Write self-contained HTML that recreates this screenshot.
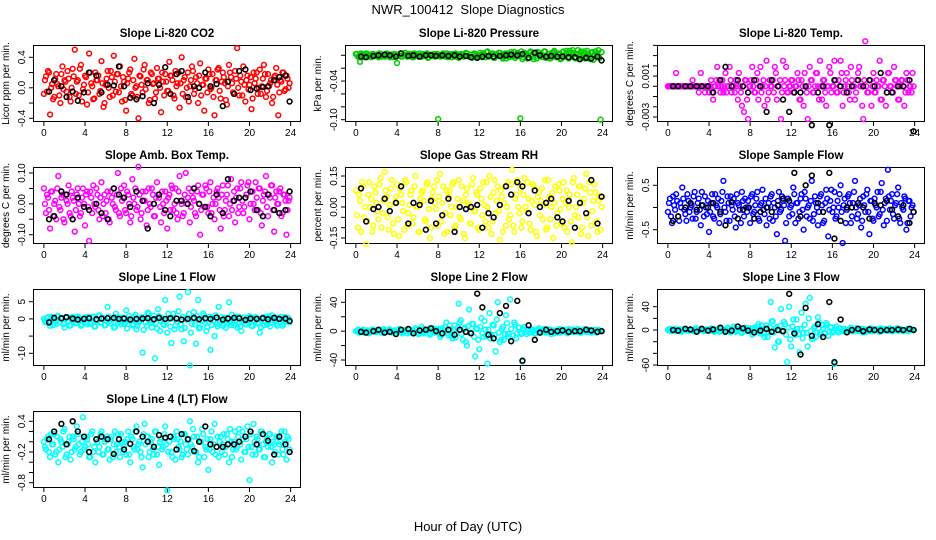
<!DOCTYPE html>
<html><head><meta charset="utf-8"><style>
html,body{margin:0;padding:0;background:#fff;}
svg{display:block;font-family:"Liberation Sans",Arial,sans-serif;}
</style></head><body>
<svg id="chart" width="936" height="540" viewBox="0 0 936 540">
<rect x="0" y="0" width="936" height="540" fill="#fff"/>
<text x="468" y="14" text-anchor="middle" font-size="13" xml:space="preserve">NWR_100412  Slope Diagnostics</text>
<text x="468" y="531" text-anchor="middle" font-size="13">Hour of Day (UTC)</text>
</svg>
<script>
const hours=[0,0.2,0.4,0.6,0.8,1,1.2,1.4,1.6,1.8,2,2.2,2.4,2.6,2.8,3,3.2,3.4,3.6,3.8,4,4.2,4.4,4.6,4.8,5,5.2,5.4,5.6,5.8,6,6.2,6.4,6.6,6.8,7,7.2,7.4,7.6,7.8,8,8.2,8.4,8.6,8.8,9,9.2,9.4,9.6,9.8,10,10.2,10.4,10.6,10.8,11,11.2,11.4,11.6,11.8,12,12.2,12.4,12.6,12.8,13,13.2,13.4,13.6,13.8,14,14.2,14.4,14.6,14.8,15,15.2,15.4,15.6,15.8,16,16.2,16.4,16.6,16.8,17,17.2,17.4,17.6,17.8,18,18.2,18.4,18.6,18.8,19,19.2,19.4,19.6,19.8,20,20.2,20.4,20.6,20.8,21,21.2,21.4,21.6,21.8,22,22.2,22.4,22.6,22.8,23,23.2,23.4,23.6,23.8];
const hours2=[0.1,0.3,0.5,0.7,0.9,1.1,1.3,1.5,1.7,1.9,2.1,2.3,2.5,2.7,2.9,3.1,3.3,3.5,3.7,3.9,4.1,4.3,4.5,4.7,4.9,5.1,5.3,5.5,5.7,5.9,6.1,6.3,6.5,6.7,6.9,7.1,7.3,7.5,7.7,7.9,8.1,8.3,8.5,8.7,8.9,9.1,9.3,9.5,9.7,9.9,10.1,10.3,10.5,10.7,10.9,11.1,11.3,11.5,11.7,11.9,12.1,12.3,12.5,12.7,12.9,13.1,13.3,13.5,13.7,13.9,14.1,14.3,14.5,14.7,14.9,15.1,15.3,15.5,15.7,15.9,16.1,16.3,16.5,16.7,16.9,17.1,17.3,17.5,17.7,17.9,18.1,18.3,18.5,18.7,18.9,19.1,19.3,19.5,19.7,19.9,20.1,20.3,20.5,20.7,20.9,21.1,21.3,21.5,21.7,21.9,22.1,22.3,22.5,22.7,22.9,23.1,23.3,23.5,23.7,23.9];
const refHours=[0.5,1,1.7,2.2,2.8,3.3,3.9,4.4,5.1,5.6,6.2,6.8,7.3,7.8,8.4,9,9.6,10.1,10.7,11.2,11.8,12.3,12.9,13.4,14,14.6,15.1,15.7,16.2,16.8,17.4,17.9,18.5,19,19.6,20.1,20.7,21.3,21.8,22.4,22.9,23.5,23.9];
const xTicks=[0,4,8,12,16,20,24];

const co2=[-0.08,0.15,0.22,-0.35,0.05,-0.12,0.18,0.02,-0.2,0.28,0.1,-0.05,0.12,-0.18,0.25,0.5,0.08,-0.1,0.3,-0.02,0.16,-0.22,0.45,0.06,-0.15,0.2,0.1,-0.08,0.35,-0.25,0.04,0.22,-0.12,0.14,0.42,-0.05,0.18,0.28,-0.18,0.08,-0.3,0.12,0.24,-0.1,0.38,0.02,-0.4,0.15,-0.06,0.3,0.1,-0.2,0.2,0.05,-0.14,0.26,0.12,-0.32,0.08,0.18,-0.04,0.34,0.16,-0.1,0.22,0.06,-0.26,0.4,0.1,-0.12,0.2,0.02,0.28,-0.08,0.14,-0.2,0.32,0.04,-0.3,0.12,0.24,-0.02,0.18,-0.36,0.1,0.26,-0.14,0.2,0.06,-0.22,0.3,0.14,-0.06,0.22,0.52,-0.1,0.08,0.28,-0.18,0.16,0.04,-0.28,0.2,0.12,-0.08,0.24,0.02,0.3,-0.12,0.18,0.06,-0.2,0.14,0.26,-0.36,0.1,0.2,-0.04,0.16,0.0];
const co2B=[0.1,-0.05,0.2,0.0,-0.15,0.12,0.05,-0.1,0.18,-0.02,0.08,0.22,-0.12,0.0,0.15,-0.08,0.1,0.25,-0.18,0.04,0.14,-0.06,0.2,0.02,-0.14,0.1,0.16,-0.04,0.06,-0.2,0.12,0.0,0.22,-0.1,0.08,0.18,-0.06,0.02,0.14,-0.16,0.06,0.2,-0.08,0.1,0.0,-0.12,0.16,0.04,0.24,-0.02,0.1,-0.16,0.18,0.06,-0.06,0.12,0.0,0.2,-0.1,0.08,-0.04,0.16,0.1,-0.14,0.02,0.2,0.06,-0.08,0.14,0.0,-0.18,0.1,0.22,-0.02,0.06,0.16,-0.1,0.04,0.12,-0.06,0.18,0.0,-0.12,0.1,0.24,-0.04,0.08,0.14,-0.16,0.02,0.2,0.06,-0.08,0.12,0.0,0.16,-0.1,0.04,0.1,-0.02,0.14,-0.14,0.06,0.2,0.0,-0.08,0.12,0.18,-0.04,0.02,0.1,-0.12,0.16,0.04,-0.06,0.08,0.2,-0.02,0.12,0.06];
const co2Ref=[-0.05,0.1,0.02,-0.12,-0.05,-0.17,-0.06,0.2,0.16,-0.06,0.04,0.03,0.28,0.02,-0.13,-0.15,-0.11,0.06,-0.2,0.04,0.27,-0.08,0.18,0.22,-0.12,0.02,0.0,0.2,0.02,0.05,-0.24,0.08,-0.08,0.22,0.24,-0.03,-0.01,0.01,0.02,0.1,0.14,0.16,-0.18];

const pressure=[0.002,-0.002,-0.01,0.001,-0.003,0.003,0.0,-0.002,0.002,-0.001,0.001,-0.003,0.002,0.0,-0.002,0.003,-0.001,0.001,-0.003,0.002,-0.012,0.0,-0.002,0.001,0.004,-0.002,0.0,0.002,-0.003,0.001,-0.001,0.003,-0.002,0.0,0.002,-0.004,0.001,-0.001,0.002,0.0,-0.099,-0.002,0.001,-0.001,0.003,-0.003,0.0,0.002,-0.002,0.001,-0.004,0.002,0.0,-0.001,0.003,-0.002,0.001,-0.003,0.002,0.0,-0.002,0.001,0.003,-0.003,0.006,-0.001,0.002,-0.004,0.001,0.0,0.004,-0.002,0.001,-0.005,0.003,0.0,-0.002,0.005,-0.001,0.002,-0.098,-0.006,0.004,0.0,-0.003,0.006,-0.002,0.002,-0.005,0.004,0.0,-0.003,0.006,-0.001,0.002,-0.004,0.005,0.0,-0.002,0.003,-0.005,0.006,0.001,-0.003,0.007,-0.002,0.004,-0.005,0.008,0.0,-0.004,0.006,-0.002,0.003,-0.006,0.005,0.001,-0.003,0.008,-0.1];
const pressureB=[0.002,-0.001,0.003,0.0,-0.002,0.002,0.001,-0.003,0.002,0.0,-0.001,0.003,-0.002,0.001,0.0,0.002,-0.003,0.001,0.002,-0.001,0.0,0.003,-0.002,0.001,-0.001,0.002,0.0,-0.003,0.003,0.001,-0.002,0.0,0.002,-0.001,0.003,-0.003,0.001,0.0,-0.002,0.002,0.001,-0.001,0.003,-0.002,0.0,0.002,-0.003,0.001,0.003,-0.001,0.0,0.002,-0.002,0.004,-0.001,0.001,-0.004,0.003,0.0,-0.002,0.004,-0.003,0.001,0.005,-0.002,0.0,0.003,-0.004,0.002,0.004,-0.001,-0.005,0.003,0.001,-0.003,0.005,0.0,-0.004,0.004,-0.001,0.006,-0.003,0.002,-0.005,0.004,0.001,-0.006,0.003,0.005,-0.002,0.0,0.006,-0.004,0.002,-0.005,0.004,0.007,-0.003,0.001,-0.006,0.005,-0.002,0.007,-0.005,0.003,0.008,-0.004,0.002,-0.006,0.006,0.0,-0.005,0.007,-0.003,0.004,-0.007,0.006,0.001,-0.004,0.005];
const pressureRef=[-0.002,-0.003,-0.001,0.0,0.001,0.0,-0.002,0.003,-0.001,0.0,-0.002,0.0,0.0,-0.001,0.0,-0.001,0.0,-0.002,-0.001,-0.003,-0.004,-0.002,-0.001,-0.002,-0.001,0.0,0.001,0.0,0.002,-0.004,0.004,0.0,-0.002,-0.001,-0.002,-0.002,-0.003,-0.003,-0.006,-0.004,-0.005,-0.002,-0.008];

const liTemp=[0,0,0,0,0.0013,0,0,0,0,0,0,0,0.0006,0,0,-0.0006,0.0013,0,-0.0006,0,-0.0006,0.0006,-0.0013,0,0.0019,0.0006,0,-0.0006,0.0013,0,0.0019,-0.0006,0,0.0006,-0.0013,0,-0.0019,-0.0025,0.0006,-0.0032,0,0.0019,-0.0006,0.0006,-0.0013,0.0019,0,-0.0019,0.0025,-0.0006,0,0.0006,0.0019,-0.0013,0,-0.0032,0.0025,0.0006,-0.0006,0,0.0006,-0.0006,0,0.0013,-0.0013,0.0006,-0.0019,0,-0.0032,0.0019,0.0006,-0.0006,0.0013,0,0.0025,-0.0013,0.0006,-0.0019,0,0.0013,0,0.0025,-0.0006,0.0006,0.0025,-0.0019,0,0.0013,-0.0006,0.0019,0,-0.0013,0.0006,0.0019,0,-0.0032,0.0044,-0.0006,0.0006,-0.0019,0.0013,-0.0006,0,0.0025,-0.0013,0.0006,-0.0019,0.0013,0,-0.0006,0.0019,0.0006,-0.0013,0,0.0006,-0.0019,0.0013,-0.0006,0,0.0013];
const liTempB=[0,0,0,0,0,0,0,0,0,0,0,0,0,0,0,0,0,0,0,0,0,-0.0006,0,0.0006,0,-0.0006,0.0006,0,-0.0006,0,0.0006,0,-0.0006,0,0.0013,-0.0006,0,0.0006,-0.0013,0,0.0006,0,-0.0006,0.0013,0,-0.0006,0.0006,0,-0.0013,0.0006,0,-0.0006,0.0013,0,0.0006,-0.0006,0,0.0019,-0.0006,0,0.0006,-0.0006,0,0.0006,-0.0013,0,0.0013,-0.0006,0,0.0006,-0.0006,0,0.0013,-0.0013,0,0.0006,-0.0006,0,0.0019,-0.0006,0,0.0006,-0.0006,0,0.0013,-0.0006,0.0006,0,-0.0013,0.0006,0,-0.0006,0.0013,0,-0.0019,0.0006,0,-0.0006,0.0006,0,-0.0006,0.0006,0,-0.0013,0.0006,0,-0.0006,0.0013,0,-0.0006,0.0006,0,-0.0013,0.0006,0,-0.0006,0.0006,0,-0.0006,0];
const liTempRef=[0,0,0,0,0,0,0,-0.0006,0.0006,0.0019,0,0.0006,0,-0.0006,0.0006,0,-0.0025,0.0006,0,-0.0013,-0.0025,-0.0006,-0.0006,0,-0.0038,-0.0006,0,-0.0038,0.0006,0,-0.0006,0,0.0006,0,0.0006,0,0.0013,-0.0006,-0.0006,0,0,0.0006,-0.0044];

const ambTemp=[0.05,-0.03,0.02,-0.08,0.04,0.0,-0.05,0.09,-0.02,0.03,-0.06,0.01,0.06,-0.04,0.02,-0.09,0.03,0.0,-0.03,0.05,-0.07,0.04,-0.12,0.02,0.06,-0.01,0.03,-0.05,0.07,0.0,-0.03,0.04,-0.06,0.02,0.05,-0.02,0.1,-0.04,0.01,0.06,-0.03,0.03,-0.06,0.08,0.0,-0.02,0.12,-0.05,0.04,0.01,-0.07,0.05,-0.01,0.03,-0.04,0.07,0.02,-0.06,0.0,0.04,-0.08,0.03,0.06,-0.02,0.05,-0.05,0.09,0.0,-0.03,0.1,0.02,-0.06,0.04,0.01,-0.04,0.06,-0.1,0.03,-0.01,0.05,-0.03,0.07,0.0,-0.05,0.04,0.02,-0.08,0.06,-0.02,0.03,-0.04,0.08,0.01,-0.06,0.05,-0.01,0.07,-0.03,0.02,0.06,-0.05,0.04,0.0,0.07,-0.02,0.05,-0.07,0.03,0.09,-0.04,0.02,0.06,-0.09,0.04,0.0,0.05,-0.03,0.03,-0.1,0.01];
const ambTempB=[0.0,0.03,-0.02,0.04,-0.04,0.01,0.05,-0.01,0.02,-0.05,0.03,0.0,-0.03,0.04,0.01,-0.02,0.05,-0.04,0.02,0.0,0.03,-0.01,0.04,-0.03,0.0,0.05,-0.02,0.02,-0.04,0.03,0.01,-0.05,0.04,0.0,-0.01,0.03,-0.03,0.05,0.02,-0.02,0.04,0.0,-0.04,0.02,0.05,-0.01,0.03,-0.03,0.01,0.04,-0.02,0.0,0.05,-0.04,0.02,0.03,-0.01,0.04,-0.03,0.01,0.02,-0.02,0.05,0.0,-0.03,0.04,0.01,-0.04,0.03,0.0,0.05,-0.01,0.02,-0.03,0.04,0.0,-0.02,0.03,0.06,-0.01,0.04,-0.03,0.02,0.0,0.05,-0.02,0.03,-0.04,0.01,0.06,0.0,-0.02,0.04,0.02,-0.03,0.05,0.01,-0.01,0.03,0.07,0.0,0.04,-0.02,0.02,0.05,-0.03,0.01,0.04,-0.01,0.03,0.06,-0.02,0.02,0.0,0.04,-0.04,0.03,0.01,-0.02,0.02];
const ambTempRef=[-0.05,-0.04,0.04,0.03,-0.05,0.02,-0.01,-0.02,0.0,-0.03,-0.05,0.05,0.03,0.02,-0.01,0.04,0.01,-0.08,0.0,0.03,-0.02,-0.04,0.01,0.01,0.0,0.05,0.0,-0.01,-0.04,0.03,-0.03,0.08,0.01,0.02,0.02,0.04,-0.02,-0.04,0.03,-0.02,-0.03,-0.02,0.04];

const gasRH=[0.08,-0.1,0.03,0.12,-0.05,-0.18,0.06,0.0,-0.12,0.1,0.02,-0.06,0.14,-0.03,0.17,0.05,-0.11,0.09,-0.08,0.02,0.11,-0.14,0.06,-0.02,0.13,-0.09,0.01,0.08,-0.05,0.15,0.0,-0.12,0.07,0.03,-0.07,0.12,-0.15,0.04,0.1,-0.01,-0.09,0.16,0.02,-0.13,0.08,0.05,-0.04,0.11,-0.1,0.0,0.13,-0.06,0.03,-0.15,0.09,0.01,-0.08,0.14,-0.02,0.06,-0.11,0.04,0.12,-0.07,0.0,0.15,-0.13,0.07,-0.03,0.1,-0.16,0.05,0.02,-0.09,0.12,-0.04,0.18,-0.12,0.06,0.0,0.09,-0.07,0.14,-0.02,0.04,-0.11,0.11,0.01,-0.14,0.07,0.03,-0.06,0.13,-0.1,0.05,0.0,-0.15,0.1,-0.03,0.08,-0.08,0.12,0.02,-0.12,0.06,-0.17,0.14,0.0,-0.05,0.1,-0.1,0.04,0.16,-0.14,0.07,-0.02,0.11,-0.07,0.03,-0.11];
const gasRHB=[-0.04,0.06,-0.12,0.1,0.0,-0.07,0.12,0.04,-0.09,0.07,-0.02,0.11,-0.1,0.03,0.08,-0.05,0.01,0.13,-0.13,0.05,-0.06,0.09,0.02,-0.11,0.12,-0.03,0.06,-0.08,0.1,0.0,-0.12,0.04,0.08,-0.06,0.11,-0.01,-0.1,0.07,0.02,0.13,0.05,-0.07,0.1,-0.03,-0.12,0.08,0.0,0.12,-0.09,0.04,-0.05,0.1,-0.13,0.06,0.02,-0.08,0.11,-0.02,0.07,-0.1,0.09,-0.04,0.01,0.12,-0.1,0.05,-0.07,0.13,0.03,-0.02,0.08,-0.12,0.1,0.0,-0.06,0.11,-0.09,0.04,0.13,-0.03,-0.1,0.06,0.0,0.12,-0.08,0.03,0.1,-0.12,0.05,-0.04,0.09,0.01,-0.11,0.13,-0.06,0.07,0.02,-0.09,0.11,-0.01,0.04,-0.1,0.08,0.0,-0.07,0.12,-0.04,0.06,0.1,-0.13,0.02,0.09,-0.05,0.12,-0.09,0.03,0.07,-0.12,0.05,0.0];
const gasRHRef=[0.09,-0.07,-0.01,0.0,0.04,-0.02,0.02,0.1,-0.08,0.02,0.01,-0.11,0.03,-0.08,-0.04,0.04,-0.12,0.0,-0.01,0.0,0.01,-0.1,-0.03,-0.05,0.01,0.1,0.06,0.12,0.1,-0.03,0.08,0.0,0.02,0.04,-0.05,-0.07,0.03,-0.1,0.02,-0.03,0.13,-0.08,0.05];

const sampleFlow=[-0.1,0.2,-0.35,0.05,0.3,-0.2,0.1,0.45,-0.05,-0.3,0.15,0.0,-0.25,0.35,-0.1,0.2,-0.4,0.05,0.25,-0.15,-0.55,0.1,-0.2,0.3,0.0,-0.35,0.15,0.6,-0.1,0.25,-0.3,0.05,0.2,-0.45,0.1,-0.05,0.35,-0.2,0.0,0.15,-0.35,0.3,-0.1,0.2,-0.25,0.05,0.4,-0.15,-0.4,0.1,0.25,-0.3,0.0,-0.6,0.35,-0.05,0.15,-0.75,0.2,-0.2,0.05,0.45,-0.35,0.1,-0.1,0.3,-0.5,0.2,0.0,-0.25,0.6,-0.15,0.1,-0.4,0.25,0.05,-0.3,0.4,-0.65,0.15,-0.1,0.35,-0.2,0.0,0.5,-0.8,0.2,-0.05,0.3,-0.35,0.1,0.6,-0.25,0.05,-0.45,0.25,-0.1,0.4,-0.6,0.15,-0.3,0.05,0.35,-0.15,0.55,-0.4,0.2,0.85,-0.05,0.3,-0.25,0.1,0.45,-0.35,0.0,0.25,-0.5,0.15,-0.2,0.05];
const sampleFlowB=[0.1,-0.2,0.25,-0.05,0.15,-0.3,0.0,0.2,-0.15,0.3,-0.1,0.05,0.25,-0.25,0.1,-0.05,0.35,-0.2,0.0,0.15,-0.1,0.3,-0.25,0.05,0.2,-0.15,0.35,0.0,-0.3,0.1,0.25,-0.05,-0.2,0.3,0.05,-0.35,0.15,0.2,-0.1,0.0,0.25,-0.15,0.05,0.35,-0.3,0.1,-0.05,0.2,0.0,-0.25,0.3,0.1,-0.2,0.15,-0.1,0.25,0.05,-0.35,0.2,0.0,-0.15,0.3,0.1,-0.25,0.2,-0.05,0.35,-0.2,0.05,0.15,-0.3,0.25,0.0,-0.1,0.3,-0.35,0.1,0.2,-0.05,0.4,0.0,-0.25,0.15,0.3,-0.1,0.05,-0.35,0.25,0.1,-0.2,0.35,0.0,-0.15,0.2,-0.3,0.05,0.3,-0.1,0.15,-0.25,0.2,0.0,-0.2,0.35,-0.05,0.1,-0.3,0.25,0.15,-0.15,0.05,0.3,-0.25,0.1,-0.05,0.2,-0.35,0.15,0.0,-0.1];
const sampleFlowRef=[-0.3,-0.2,0.0,0.1,-0.05,0.05,0.0,0.1,-0.1,-0.4,0.12,-0.25,-0.05,0.0,-0.25,-0.1,0.0,-0.1,0.05,0.2,0.15,0.78,-0.2,0.5,0.72,0.1,-0.1,0.78,-0.7,-0.3,0.0,0.0,0.1,0.0,-0.25,0.1,0.05,0.15,-0.05,-0.2,0.05,-0.35,-0.1];

const line1=[0,-1,0.5,-2,0.3,-0.5,-1.5,0.8,-1,0,-2.5,0.4,-0.8,-1.8,0.6,-0.3,-1.2,0.2,-2,-0.6,0.5,-1.5,0,-0.9,0.7,-2.2,-0.4,1,-1,0.2,-1.8,3.5,-0.6,0,-2.5,1.5,-1.2,0.3,-0.8,-1.5,2.5,-0.5,0,-1.8,0.6,-3,-1,-0.2,-9.8,0.5,-2,1.5,-1,-0.4,-11.5,-2.8,0.8,-0.6,-1.5,5.5,-4,0,-7,1.5,-2,-1,6.5,-3,-6.5,0.3,7.8,-13.5,-1.5,2,-7.2,5.5,-2.5,-0.5,1,-3.5,-1,-9,0.5,-5,-1.5,3.5,-0.5,-2,0.2,-1.2,4.8,-1.8,-0.2,0.6,-2.5,-1,-3.5,0.3,-1.5,-0.6,0.8,-2,-0.4,0.5,-1.2,-4,0,-1.8,0.6,-0.8,-2.2,1,-0.5,-1.5,0.3,-1,-2,0.5,-0.7,0.2];
const line1B=[-0.5,0.3,-1.2,0.6,-1.8,-0.2,0.8,-1,0.2,-1.5,0.5,-0.8,-2,0.4,-0.3,-1.3,0.7,-0.6,-1.7,0.1,-0.9,0.6,-1.4,0.2,-2.2,-0.4,0.9,-1.1,0.3,-1.9,-0.5,0.7,-1.3,0.0,-2.4,0.5,-0.7,-1.6,0.4,-1,-2.8,0.8,-0.3,-1.5,1.2,-2,-0.6,0.5,-3.2,-1,1.8,-0.4,-2.5,0.9,-1.2,2.8,-3.5,0.2,-1.8,-0.6,1.5,-2.2,0.4,-3,-0.8,2.2,-1.5,0.6,-2.6,-0.2,1.4,-4,0.0,-1.6,0.8,-2.8,-0.5,1.6,-1.2,-2.4,0.6,-1.8,-0.3,1,-2.2,-0.7,0.5,-1.4,-2.6,0.3,-0.9,1.2,-1.9,-0.4,0.7,-2.3,-1.1,0.4,-1.6,-0.2,0.6,-2.1,-0.8,0.3,-1.4,-2.5,0.5,-0.6,-1.7,0.8,-1.2,-0.3,0.4,-2,-0.9,0.6,-1.5,-0.4,0.2,-1];
const line1Ref=[-1,0.3,0.2,0.5,0.1,-0.2,0.0,0.2,-0.1,0.1,0.2,0.3,0.0,0.1,-0.2,0.0,0.1,0.2,-0.1,0.3,0.0,0.2,0.1,-0.2,0.0,0.3,-0.1,0.2,0.0,0.4,-0.2,0.1,0.3,0.2,-0.3,0.1,0.0,0.2,-0.1,0.3,0.0,0.1,-0.6];

const line2=[0,2,-1,1,-2,0,1,-1,2,0,-1,1,0,-2,1,0,2,-1,0,1,-1,3,0,-2,1,-3,2,-1,0,4,-2,1,6,-3,0,2,-5,1,-1,3,-2,-8,4,0,12,-6,2,-10,8,-3,38,15,-12,5,-20,30,-2,10,-35,3,-25,18,-8,2,-45,25,-5,8,-28,40,-15,3,-12,22,-4,44,-6,12,-10,5,-2,-42,6,-4,3,-1,2,-3,1,4,-2,0,3,-1,2,-4,1,0,-2,3,-1,2,0,-3,1,2,-1,0,3,-2,1,0,-1,2,-1,0,1,-2,2,0];
const line2B=[1,-2,0,2,-1,1,-3,0,2,-1,1,0,-2,3,-1,0,2,-2,1,0,-1,2,-3,1,0,3,-2,1,-1,2,-4,0,3,-1,2,-3,1,4,-2,0,3,-5,1,6,-3,8,-6,2,-9,5,12,-4,3,-15,7,-2,10,-8,4,-12,6,-3,14,-7,2,-10,9,-5,16,-2,-12,6,-4,11,-8,3,-6,9,-3,5,-4,2,-1,3,-2,1,0,-3,2,-1,1,3,-2,0,2,-1,-3,1,2,-2,0,1,-2,3,-1,0,2,-1,1,-2,0,3,-1,1,-2,0,2,-1,1,0];
const line2Ref=[-1,-2,0,2,-2,-1,-4,2,3,-3,1,2,4,0,-3,2,-5,2,-1,-3,52,33,-5,-10,25,35,-14,42,-41,8,-12,-2,2,-1,0,1,-1,0,0,2,1,-1,0];

const line3=[0,2,-1,1,-2,0,1,-1,2,0,-1,1,0,-2,1,0,2,-1,0,1,-1,3,0,-2,1,-3,2,-1,0,4,-2,1,6,-3,0,2,-5,1,-1,3,-2,-8,4,0,10,-6,2,-12,8,-3,48,15,-30,5,-20,36,-2,10,-55,40,-28,18,-8,2,-38,30,-5,45,-28,55,-15,3,-12,22,-4,8,-6,12,-10,5,-2,-58,6,-4,3,-1,2,-3,1,4,-2,0,3,-1,2,-4,1,0,-2,3,-1,2,0,-3,1,2,-1,0,3,-2,1,0,-1,2,-1,0,1,-2,2,0];
const line3B=[1,-2,0,2,-1,1,-3,0,2,-1,1,0,-2,3,-1,0,2,-2,1,0,-1,2,-3,1,0,3,-2,1,-1,2,-4,0,3,-1,2,-3,1,4,-2,0,3,-5,1,6,-3,8,-6,2,-12,5,15,-4,3,-20,7,-2,14,-8,4,-16,6,-3,18,-7,2,-14,9,-5,20,-2,-15,6,-4,13,-8,3,-6,9,-3,5,-4,2,-1,3,-2,1,0,-3,2,-1,1,3,-2,0,2,-1,-3,1,2,-2,0,1,-2,3,-1,0,2,-1,1,-2,0,3,-1,1,-2,0,2,-1,1,0];
const line3Ref=[0,-1,2,1,-3,2,-1,1,4,-3,-1,6,3,-1,-4,-1,2,-3,0,-2,62,-6,-42,38,-10,10,-12,48,-55,18,-4,0,2,-2,1,0,-1,0,0,1,0,2,0];

const line4=[0.0,-0.15,0.1,-0.3,-0.05,0.15,-0.2,-0.4,0.05,-0.1,0.25,-0.25,0.0,-0.35,0.1,-0.15,0.3,-0.05,-0.2,0.48,-0.1,0.05,-0.3,0.15,-0.2,-0.4,0.0,-0.1,0.2,-0.25,0.05,-0.15,-0.35,0.1,-0.05,-0.2,0.15,-0.3,0.0,-0.1,-0.25,0.2,-0.4,0.05,-0.15,0.3,-0.05,-0.2,-0.5,0.35,0.1,-0.3,0.0,-0.15,0.2,-0.25,-0.45,0.05,-0.1,0.3,-0.95,0.0,-0.2,0.1,-0.35,0.05,-0.15,-0.3,0.15,-0.05,-0.25,0.4,-0.1,0.1,-0.2,-0.4,0.0,0.25,-0.3,-0.15,-0.55,0.05,-0.2,0.35,-0.1,-0.3,0.1,-0.05,-0.25,0.15,-0.4,0.0,-0.15,0.2,-0.1,0.25,-0.35,0.05,-0.2,0.3,-0.75,-0.1,0.35,-0.25,0.05,-0.15,0.2,-0.3,0.0,-0.1,0.15,-0.4,-0.05,0.1,-0.25,0.0,-0.15,0.2,-0.35,0.05];
const line4B=[-0.1,0.05,-0.2,0.15,-0.05,-0.25,0.1,-0.15,0.0,0.2,-0.3,-0.05,0.1,-0.2,0.05,-0.1,0.15,-0.25,0.0,-0.15,0.1,-0.05,-0.3,0.2,-0.1,0.05,-0.2,0.15,-0.25,0.0,0.1,-0.15,0.05,-0.3,0.2,-0.05,-0.1,0.15,-0.2,0.0,0.05,-0.25,0.1,-0.1,0.2,-0.15,0.0,-0.3,0.15,-0.05,0.1,-0.2,0.05,-0.25,0.2,-0.1,0.0,-0.15,0.15,-0.05,-0.2,0.1,-0.3,0.05,0.2,-0.1,0.0,-0.25,0.15,-0.15,0.05,-0.05,0.25,-0.2,0.1,-0.3,0.0,0.15,-0.1,0.05,-0.15,0.2,-0.05,-0.25,0.1,0.0,-0.2,0.15,-0.1,0.05,0.25,-0.3,0.0,-0.15,0.1,-0.05,0.2,-0.2,0.05,-0.1,0.15,-0.25,0.0,0.1,-0.15,0.2,-0.05,-0.3,0.05,0.15,-0.1,0.0,-0.2,0.1,-0.05,0.2,-0.25,0.0,0.1,-0.15];
const line4Ref=[0.05,0.2,0.35,-0.05,0.4,0.2,0.1,-0.2,0.05,0.1,0.05,-0.24,0.05,-0.15,-0.04,0.2,0.1,0.0,-0.1,0.13,0.08,0.1,-0.15,0.15,0.05,-0.18,0.0,0.3,-0.05,-0.1,-0.1,-0.05,-0.05,0.0,0.1,0.2,-0.05,0.15,0.02,-0.25,0.1,-0.05,-0.2];

const co2Ticks=[-0.4,-0.2,0,0.2,0.4], co2Labels=["-0.4","0.0","0.4"];
const presTicks=[0,-0.02,-0.04,-0.06,-0.08,-0.1], presLabels=["-0.04","-0.10"];
const liTempTicks=[0.004,0.003,0.002,0.001,0,-0.001,-0.002,-0.003], liTempLabels=["0.001","-0.003"];
const ambTicks=[-0.1,-0.05,0,0.05,0.1], ambLabels=["-0.10","0.00","0.10"];
const rhTicks=[-0.15,-0.1,-0.05,0,0.05,0.1,0.15], rhLabels=["-0.15","0.00","0.15"];
const sfTicks=[-0.5,0,0.5], sfLabels=["-0.5","0.5"];
const l1Ticks=[-10,-5,0,5], l1Labels=["-10","0","5"];
const l2Ticks=[-40,-20,0,20,40], l2Labels=["-40","0","40"];
const l3Ticks=[-60,-40,-20,0,20,40], l3Labels=["-60","0","40"];
const l4Ticks=[0.4,0.2,0,-0.2,-0.4,-0.6,-0.8], l4Labels=["0.4","-0.2","-0.8"];

const panels=[
 {name:"co2",title:"Slope Li-820 CO2",ylab:"Licor ppm per min.",col:0,row:0,color:"#ff0000",data:co2,data2:co2B,ref:co2Ref,r:[0.4,11.3,-0.4,72.3],ticks:co2Ticks,labels:co2Labels},
 {name:"pressure",title:"Slope Li-820 Pressure",ylab:"kPa per min.",col:1,row:0,color:"#00cc00",data:pressure,data2:pressureB,ref:pressureRef,r:[0,9.3,-0.1,73.7],ticks:presTicks,labels:presLabels},
 {name:"licor-temp",title:"Slope Li-820 Temp.",ylab:"degrees C per min.",col:2,row:0,color:"#ff00ff",data:liTemp,data2:liTempB,ref:liTempRef,r:[0,40.3,-0.003,71],ticks:liTempTicks,labels:liTempLabels},
 {name:"amb-box-temp",title:"Slope Amb. Box Temp.",ylab:"degrees C per min.",col:0,row:1,color:"#ff00ff",data:ambTemp,data2:ambTempB,ref:ambTempRef,r:[0.1,5,-0.1,66.7],ticks:ambTicks,labels:ambLabels},
 {name:"gas-stream-rh",title:"Slope Gas Stream RH",ylab:"percent per min.",col:1,row:1,color:"#ffff00",data:gasRH,data2:gasRHB,ref:gasRHRef,r:[0.15,8,-0.15,70],ticks:rhTicks,labels:rhLabels},
 {name:"sample-flow",title:"Slope Sample Flow",ylab:"ml/min per min.",col:2,row:1,color:"#0000ff",data:sampleFlow,data2:sampleFlowB,ref:sampleFlowRef,r:[0.5,17.3,-0.5,61.7],ticks:sfTicks,labels:sfLabels},
 {name:"line1-flow",title:"Slope Line 1 Flow",ylab:"ml/min per min.",col:0,row:2,color:"#00ffff",data:line1,data2:line1B,ref:line1Ref,r:[5,11.7,-10,63.3],ticks:l1Ticks,labels:l1Labels},
 {name:"line2-flow",title:"Slope Line 2 Flow",ylab:"ml/min per min.",col:1,row:2,color:"#00ffff",data:line2,data2:line2B,ref:line2Ref,r:[40,12.3,-40,70],ticks:l2Ticks,labels:l2Labels},
 {name:"line3-flow",title:"Slope Line 3 Flow",ylab:"ml/min per min.",col:2,row:2,color:"#00ffff",data:line3,data2:line3B,ref:line3Ref,r:[40,16.7,-60,75],ticks:l3Ticks,labels:l3Labels},
 {name:"line4-flow",title:"Slope Line 4 (LT) Flow",ylab:"ml/min per min.",col:0,row:3,color:"#00ffff",data:line4,data2:line4B,ref:line4Ref,r:[0.4,9.3,-0.8,70.7],ticks:l4Ticks,labels:l4Labels}
];

const NS="http://www.w3.org/2000/svg";
const svg=document.getElementById('chart');
function mk(tag,attrs,parent){const e=document.createElementNS(NS,tag);for(const k in attrs)e.setAttribute(k,attrs[k]);(parent||svg).appendChild(e);return e;}

panels.forEach(p=>{
  const L=34+312*p.col, R=300+312*p.col, T=46+122*p.row, B=T+75;
  const xs=h=>L+9.9+h*10.28;
  const ys=v=>T+p.r[1]+(v-p.r[0])*(p.r[3]-p.r[1])/(p.r[2]-p.r[0]);
  const g=mk('g',{});
  
  
  const t=mk('text',{x:(L+R)/2,y:T-9,'text-anchor':'middle','font-size':'11.5','font-weight':'bold'},g);
  t.textContent=p.title;
  
  
  const xa=mk('g',{stroke:'#000','stroke-width':'1'},g);
  
  
  mk('line',{x1:xs(0),x2:xs(24),y1:B+0.5,y2:B+0.5},xa);
  xTicks.forEach(h=>{
    mk('line',{x1:xs(h),x2:xs(h),y1:B,y2:B+5},xa);
    const tl=mk('text',{x:xs(h),y:B+15,'text-anchor':'middle','font-size':'10',stroke:'none',fill:'#000'},xa);
    tl.textContent=String(h);
    
    
  });
  const ya=mk('g',{stroke:'#000','stroke-width':'1'},g);
  
  
  mk('line',{x1:L-0.5,x2:L-0.5,y1:ys(p.ticks[0]),y2:ys(p.ticks[p.ticks.length-1])},ya);
  p.ticks.forEach(v=>{mk('line',{x1:L-5,x2:L,y1:ys(v),y2:ys(v)},ya);});
  p.labels.forEach(s=>{
    const y=ys(parseFloat(s)), x=L-9;
    const tl=mk('text',{x:x,y:y,'text-anchor':'middle','font-size':'10',stroke:'none',fill:'#000',transform:`rotate(-90 ${x} ${y})`},ya);
    tl.textContent=s;
    
    
  });
  const yl=mk('text',{x:L-25,y:(T+B)/2,'text-anchor':'middle','font-size':'10',transform:`rotate(-90 ${L-25} ${(T+B)/2})`},g);
  yl.textContent=p.ylab;
  
  
  const bx=mk('rect',{x:L-0.5,y:T-0.5,width:R-L+1,height:B-T+1,fill:'none',stroke:'#000','stroke-width':'1'},g);
  
  
  const pts=mk('g',{fill:'none',stroke:p.color,'stroke-width':'1.5'},g);
  
  
  const n=Math.min(hours.length,p.data.length);
  for(let i=0;i<n;i++){
    const c=mk('circle',{cx:xs(hours[i]),cy:ys(p.data[i]),r:2.4},pts);
    
    
  }
  const n2=Math.min(hours2.length,p.data2.length);
  for(let i=0;i<n2;i++){
    const c=mk('circle',{cx:xs(hours2[i]),cy:ys(p.data2[i]),r:2.4},pts);
    
    
  }
  const rp=mk('g',{fill:'none',stroke:'#000','stroke-width':'1.6'},g);
  
  
  const m=Math.min(refHours.length,p.ref.length);
  for(let i=0;i<m;i++){
    const c=mk('circle',{cx:xs(refHours[i]),cy:ys(p.ref[i]),r:2.4},rp);
    
    
  }
});
</script>
</body></html>
